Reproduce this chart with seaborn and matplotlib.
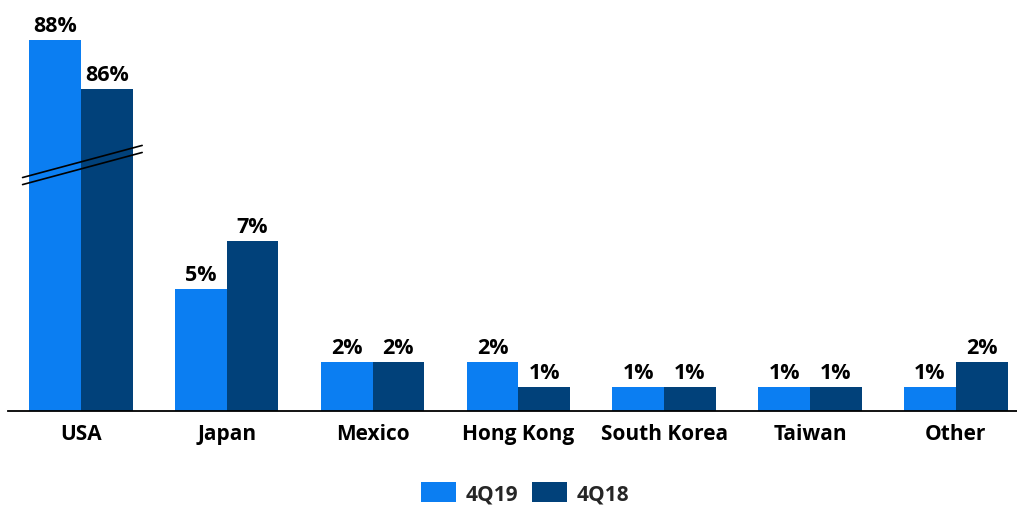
import matplotlib
matplotlib.use("Agg")
import matplotlib.pyplot as plt
import seaborn as sns
import pandas as pd
from matplotlib.patches import Patch
from matplotlib.lines import Line2D

categories = ["USA", "Japan", "Mexico", "Hong Kong", "South Korea", "Taiwan", "Other"]
series = ["4Q19", "4Q18"]
values_4q19 = [88, 5, 2, 2, 1, 1, 1]
values_4q18 = [86, 7, 2, 1, 1, 1, 2]

colors = {"4Q19": "#0B7EF2", "4Q18": "#01417A"}
BREAK_OFFSET = 72.75  # axis break applied to USA bars

rows = []
for s, vals in zip(series, [values_4q19, values_4q18]):
    for c, v in zip(categories, vals):
        disp = v - BREAK_OFFSET if c == "USA" else v
        rows.append({"country": c, "series": s, "value": v, "display": disp})
df = pd.DataFrame(rows)

sns.set_theme(style="white")
plt.rcParams["font.family"] = ["Open Sans", "DejaVu Sans"]
plt.rcParams["font.weight"] = "bold"

fig = plt.figure(figsize=(10.17, 5.06), dpi=100)
ax = fig.add_axes([8 / 1017, 94 / 506, 1009 / 1017, 411 / 506])

sns.barplot(data=df, x="country", y="display", hue="series", order=categories,
            hue_order=series, palette=colors, width=0.71, gap=0, linewidth=0,
            edgecolor="none", saturation=1, legend=False, ax=ax)

for cont, s in zip(ax.containers, series):
    vals = df[df["series"] == s].set_index("country").loc[categories, "value"]
    ax.bar_label(cont, labels=[f"{v}%" for v in vals], padding=3,
                 fontsize=15.5, fontweight="bold", color="black")

ax.set_xlim(-0.5, 6.42)
ax.set_ylim(0, 16.9)
ax.set_xlabel("")
ax.set_ylabel("")
ax.set_yticks([])
for sp in ["left", "top", "right"]:
    ax.spines[sp].set_visible(False)
ax.spines["bottom"].set_color("black")
ax.spines["bottom"].set_linewidth(1.3)
ax.tick_params(axis="x", length=0, pad=9, labelsize=15)
for lbl in ax.get_xticklabels():
    lbl.set_fontweight("bold")
    lbl.set_color("black")

# axis break marks on USA bars
for dy in (0.0, -0.29):
    x0, x1 = -0.4, 0.42
    y0, y1 = 9.6 + dy, 10.92 + dy
    ax.add_line(Line2D([x0, x1], [y0, y1], color="black", lw=1.2, clip_on=False))

handles = [Patch(facecolor=colors[s], edgecolor="none", label=s) for s in series]
fig.legend(handles=handles, loc="center", bbox_to_anchor=(0.516, 12 / 506), ncol=2,
           frameon=False, handlelength=1.7, handleheight=1.15, borderpad=0,
           handletextpad=0.45, columnspacing=0.65, prop={"weight": "bold", "size": 15})

fig.savefig("out.png", dpi=100)
